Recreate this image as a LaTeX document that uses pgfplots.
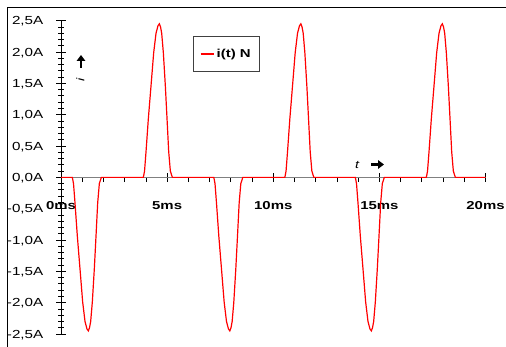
\documentclass[border=0pt]{standalone}
\usepackage{pgfplots}
\pgfplotsset{compat=1.18}
\usepackage{fontspec}
\setmainfont{Liberation Sans}[FakeStretch=1.3]
\usetikzlibrary{arrows.meta}

\begin{document}
\begin{tikzpicture}
\path[use as bounding box] (0bp,0bp) rectangle (506bp,347bp);
% outer frame (top and left edges)
\draw[line width=1bp] (7.3bp,0bp) -- (7.3bp,339.7bp) -- (506bp,339.7bp);
\begin{axis}[
  at={(61bp,13bp)}, anchor=south west,
  scale only axis, width=424.5bp, height=313.3bp,
  xmin=0, xmax=20, ymin=-2.5, ymax=2.5,
  axis x line=middle, axis y line=left,
  axis line style={-},
  x axis line style={-, draw=gray, line width=1.1bp},
  y axis line style={-, draw=black, line width=0.9bp},
  hide obscured x ticks=false, hide obscured y ticks=false,
  xtick={0,5,10,15,20},
  minor xtick={1,2,3,4,6,7,8,9,11,12,13,14,16,17,18,19},
  ytick={-2.5,-2,-1.5,-1,-0.5,0,0.5,1,1.5,2,2.5},
  minor ytick={-2.4,-2.3,-2.2,-2.1,-1.9,-1.8,-1.7,-1.6,-1.4,-1.3,-1.2,-1.1,
    -0.9,-0.8,-0.7,-0.6,-0.4,-0.3,-0.2,-0.1,0.1,0.2,0.3,0.4,0.6,0.7,0.8,0.9,
    1.1,1.2,1.3,1.4,1.6,1.7,1.8,1.9,2.1,2.2,2.3,2.4},
  xticklabels={0ms,5ms,10ms,15ms,20ms},
  yticklabels={{-2,5A},{-2,0A},{-1,5A},{-1,0A},{-0,5A},{0,0A},{0,5A},{1,0A},{1,5A},{2,0A},{2,5A}},
  tick align=center,
  major tick length=9bp, minor tick length=5bp,
  major tick style={black, line width=0.9bp},
  minor tick style={black, line width=0.8bp},
  minor x tick style={black, line width=0.8bp, yshift=-2.3bp},
  xticklabel style={font=\bfseries\fontsize{11.5bp}{13bp}\selectfont, anchor=center, inner sep=0pt, yshift=-23.5bp},
  yticklabel style={font=\fontsize{11.7bp}{13bp}\selectfont, anchor=base east, inner sep=0pt, xshift=-13bp, yshift=-4.1bp},
  legend style={at={(axis cs:7.79,1.97)}, anchor=center, draw=black!75, line width=0.8bp,
    inner xsep=7bp, inner ysep=10.5bp,
    font=\bfseries\fontsize{11.5bp}{13bp}\selectfont},
  legend image code/.code={\draw[#1] (0bp,0bp) -- (13.6bp,0bp);},
]
\addplot[red, line width=1.2bp] coordinates {
  (0,0)
  (0.534,0) (0.590,-0.10) (0.660,-0.41) (0.770,-0.94) (0.895,-1.46) (1.021,-1.99)
  (1.131,-2.30) (1.224,-2.42) (1.288,-2.45) (1.344,-2.40) (1.398,-2.30) (1.476,-1.99)
  (1.570,-1.46) (1.649,-0.94) (1.728,-0.41) (1.806,-0.10) (1.900,0)
  (3.880,0) (3.936,0.10) (4.006,0.41) (4.116,0.94) (4.241,1.46) (4.367,1.99)
  (4.477,2.30) (4.570,2.42) (4.634,2.45) (4.690,2.40) (4.744,2.30) (4.822,1.99)
  (4.916,1.46) (4.995,0.94) (5.074,0.41) (5.152,0.10) (5.246,0)
  (7.200,0) (7.256,-0.10) (7.326,-0.41) (7.436,-0.94) (7.561,-1.46) (7.687,-1.99)
  (7.797,-2.30) (7.890,-2.42) (7.954,-2.45) (8.010,-2.40) (8.064,-2.30) (8.142,-1.99)
  (8.236,-1.46) (8.315,-0.94) (8.394,-0.41) (8.472,-0.10) (8.566,0)
  (10.547,0) (10.603,0.10) (10.673,0.41) (10.783,0.94) (10.908,1.46) (11.034,1.99)
  (11.144,2.30) (11.237,2.42) (11.301,2.45) (11.357,2.40) (11.411,2.30) (11.489,1.99)
  (11.583,1.46) (11.662,0.94) (11.741,0.41) (11.819,0.10) (11.913,0)
  (13.867,0) (13.923,-0.10) (13.993,-0.41) (14.103,-0.94) (14.228,-1.46) (14.354,-1.99)
  (14.464,-2.30) (14.557,-2.42) (14.621,-2.45) (14.677,-2.40) (14.731,-2.30) (14.809,-1.99)
  (14.903,-1.46) (14.982,-0.94) (15.061,-0.41) (15.139,-0.10) (15.233,0)
  (17.213,0) (17.269,0.10) (17.339,0.41) (17.449,0.94) (17.574,1.46) (17.700,1.99)
  (17.810,2.30) (17.903,2.42) (17.967,2.45) (18.023,2.40) (18.077,2.30) (18.155,1.99)
  (18.249,1.46) (18.328,0.94) (18.407,0.41) (18.485,0.10) (18.579,0)
  (20,0)
};
\addlegendentry{i(t) N}
\end{axis}
% axis direction markers
\node[font=\itshape\fontsize{11bp}{13bp}\selectfont, inner sep=0pt] at (357bp,182.5bp) {t};
\draw[line width=2.6bp, -{Triangle[length=6bp,width=8.5bp]}] (371bp,182.5bp) -- (384bp,182.5bp);
\node[font=\itshape\fontsize{11bp}{13bp}\selectfont, inner sep=0pt, rotate=90] at (80.5bp,267bp) {i};
\draw[line width=2.6bp, -{Triangle[length=6bp,width=8.5bp]}] (81bp,279bp) -- (81bp,292bp);
\end{tikzpicture}
\end{document}
